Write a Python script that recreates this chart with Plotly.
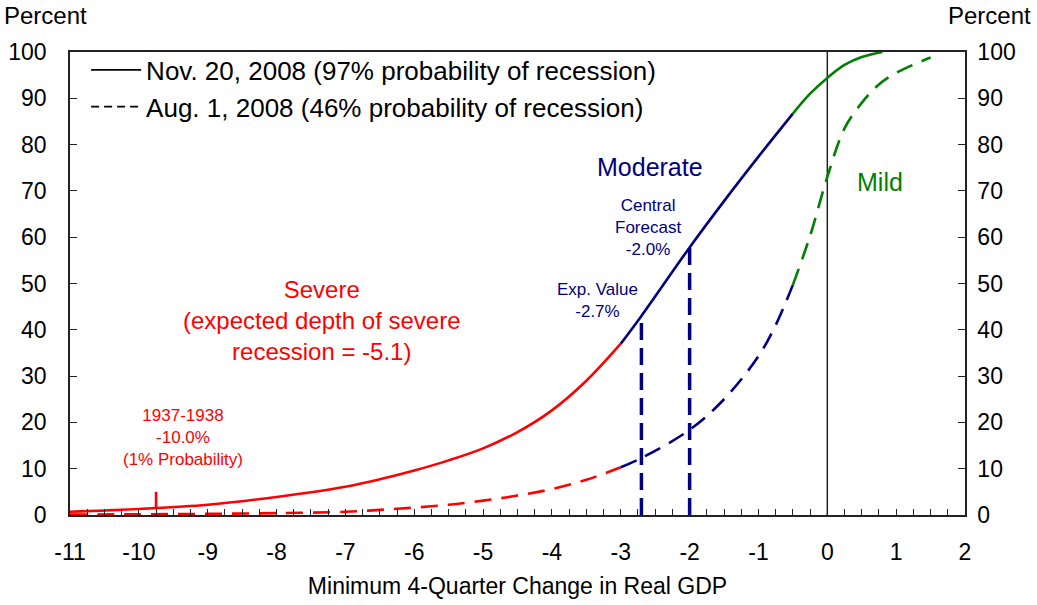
import numpy as np
import plotly.graph_objects as go

# ---- data ----
gdp_nov = [-11, -10, -9, -8, -7, -6.5, -6, -5.5, -5, -4.5, -4, -3.5, -3, -2.7, -2, -1.5, -1,
           -0.5, -0.25, 0, 0.25, 0.5, 0.8]
prob_nov = [0.7, 1.3, 2.2, 3.9, 6.1, 7.7, 9.6, 11.8, 14.4, 17.9, 22.6, 29.0, 37.0, 43.0, 57.8,
            67.8, 77.4, 86.7, 91.0, 94.4, 97.2, 98.9, 100.0]

gdp_aug = [-11, -10, -9, -8, -7, -6.5, -6, -5.5, -5, -4.5, -4, -3.5, -3, -2.7, -2, -1.5, -1,
           -0.75, -0.5, -0.25, 0, 0.25, 0.5, 0.75, 1, 1.5]
prob_aug = [0.1, 0.15, 0.25, 0.4, 0.7, 1.1, 1.6, 2.2, 3.1, 4.2, 5.6, 7.6, 10.3, 12.3, 18.4,
            25.0, 34.3, 41.0, 49.7, 60.3, 73.0, 83.5, 89.0, 93.0, 95.5, 98.8]

regime_names = ["Severe", "Moderate", "Mild"]
regime_bounds = [(-11, -3), (-3, -0.5), (-0.5, 2)]
regime_colors = ["#FF0000", "#000080", "#008000"]

exp_value = -2.7
central_forecast = -2.0
event_1937_x = -9.75
event_1937_top = 5.0

x_ticks = list(range(-11, 3))
y_ticks = list(range(0, 101, 10))

FONT = "Liberation Sans, Arial, sans-serif"


def segment(xs, ys, lo, hi):
    pts = [(x, y) for x, y in zip(xs, ys) if lo <= x <= hi]
    return [p[0] for p in pts], [p[1] for p in pts]


fig = go.Figure()

# vertical zero line
fig.add_shape(type="line", xref="x", yref="y", x0=0, x1=0, y0=0, y1=100,
              line=dict(color="#222222", width=1.5), layer="below")

# curves
for (lo, hi), col in zip(regime_bounds, regime_colors):
    sx, sy = segment(gdp_aug, prob_aug, lo, hi)
    fig.add_trace(go.Scatter(x=sx, y=sy, mode="lines", showlegend=False,
                             line=dict(color=col, width=2.6, dash="17px,10px",
                                       shape="spline", smoothing=1.0),
                             hoverinfo="skip"))
    sx, sy = segment(gdp_nov, prob_nov, lo, hi)
    fig.add_trace(go.Scatter(x=sx, y=sy, mode="lines", showlegend=False,
                             line=dict(color=col, width=2.6, shape="spline", smoothing=1.0),
                             hoverinfo="skip"))

# vertical dashed markers for expected value and central forecast
for xv in (exp_value, central_forecast):
    top = float(np.interp(xv, gdp_nov, prob_nov))
    fig.add_trace(go.Scatter(x=[xv, xv], y=[0, top], mode="lines", showlegend=False,
                             line=dict(color="#000080", width=3.5, dash="17px,8px"),
                             hoverinfo="skip"))

# 1937-38 marker
base = float(np.interp(event_1937_x, gdp_nov, prob_nov))
fig.add_trace(go.Scatter(x=[event_1937_x, event_1937_x], y=[base, event_1937_top], mode="lines",
                         showlegend=False, line=dict(color="#FF0000", width=2.6), hoverinfo="skip"))

# legend entries (black)
fig.add_trace(go.Scatter(x=[None], y=[None], mode="lines",
                         name="Nov. 20, 2008 (97% probability of recession)",
                         line=dict(color="black", width=1.6)))
fig.add_trace(go.Scatter(x=[None], y=[None], mode="lines",
                         name="Aug. 1, 2008 (46% probability of recession)",
                         line=dict(color="black", width=1.6, dash="8px,5px")))

# right axis dummy trace
fig.add_trace(go.Scatter(x=[None], y=[None], yaxis="y2", showlegend=False))

annots = [
    dict(x=-7.34, y=42, text="Severe<br>(expected depth of severe<br>recession = -5.1)",
         color="#FF0000", size=24),
    dict(x=-9.36, y=16.8, text="1937-1938<br>-10.0%<br>(1% Probability)",
         color="#FF0000", size=17),
    dict(x=-2.58, y=75.2, text="Moderate", color="#000080", size=25),
    dict(x=-2.61, y=62.2, text="Central<br>Forecast<br>-2.0%", color="#000080", size=17),
    dict(x=-3.34, y=46.3, text="Exp. Value<br>-2.7%", color="#000080", size=17),
    dict(x=0.77, y=72.0, text="Mild", color="#008000", size=25),
]
for a in annots:
    fig.add_annotation(x=a["x"], y=a["y"], xref="x", yref="y", text=a["text"],
                       showarrow=False, align="center",
                       font=dict(family=FONT, size=a["size"], color=a["color"]))

# "Percent" labels
fig.add_annotation(x=0, y=1, xref="paper", yref="paper", xanchor="left", yanchor="top",
                   text="Percent", showarrow=False,
                   font=dict(family=FONT, size=24, color="black"),
                   xshift=-68, yshift=52)
fig.add_annotation(x=1, y=1, xref="paper", yref="paper", xanchor="right", yanchor="top",
                   text="Percent", showarrow=False,
                   font=dict(family=FONT, size=24, color="black"),
                   xshift=68, yshift=52)

axis_line = dict(showline=True, linecolor="#222222", linewidth=1.5, automargin=False)

fig.update_layout(
    width=1037, height=605,
    margin=dict(l=70, r=72, t=52, b=90, autoexpand=False),
    paper_bgcolor="white", plot_bgcolor="white",
    font=dict(family=FONT, size=23, color="black"),
    showlegend=True,
    legend=dict(x=0.018, y=1.012, xanchor="left", yanchor="top",
                bgcolor="rgba(0,0,0,0)", font=dict(family=FONT, size=26, color="black"),
                tracegroupgap=0, itemwidth=50),
    xaxis=dict(range=[-11, 2], tickmode="array", tickvals=x_ticks,
               ticktext=[str(v) for v in x_ticks],
               ticks="inside", ticklen=6, tickwidth=1.3, tickcolor="#222222",
               minor=dict(dtick=0.25, ticks="inside", ticklen=6, tickwidth=1.3, tickcolor="#222222"),
               showgrid=False, zeroline=False, mirror=True,
               ticklabelstandoff=16,
               title=dict(text="Minimum 4-Quarter Change in Real GDP", standoff=14,
                          font=dict(family=FONT, size=23)),
               **axis_line),
    yaxis=dict(range=[0, 100], tickmode="array", tickvals=y_ticks,
               ticks="inside", ticklen=7, tickwidth=1.3, tickcolor="#222222",
               showgrid=False, zeroline=False, ticklabelstandoff=17,
               **axis_line),
    yaxis2=dict(range=[0, 100], tickmode="array", tickvals=y_ticks, overlaying="y", side="right",
                ticks="inside", ticklen=7, tickwidth=1.3, tickcolor="#222222",
                showgrid=False, zeroline=False, ticklabelstandoff=6,
                **axis_line),
)

fig.write_html("out.html", config={"displayModeBar": False},
               post_script="document.body.style.margin='0';document.body.style.padding='0';")
